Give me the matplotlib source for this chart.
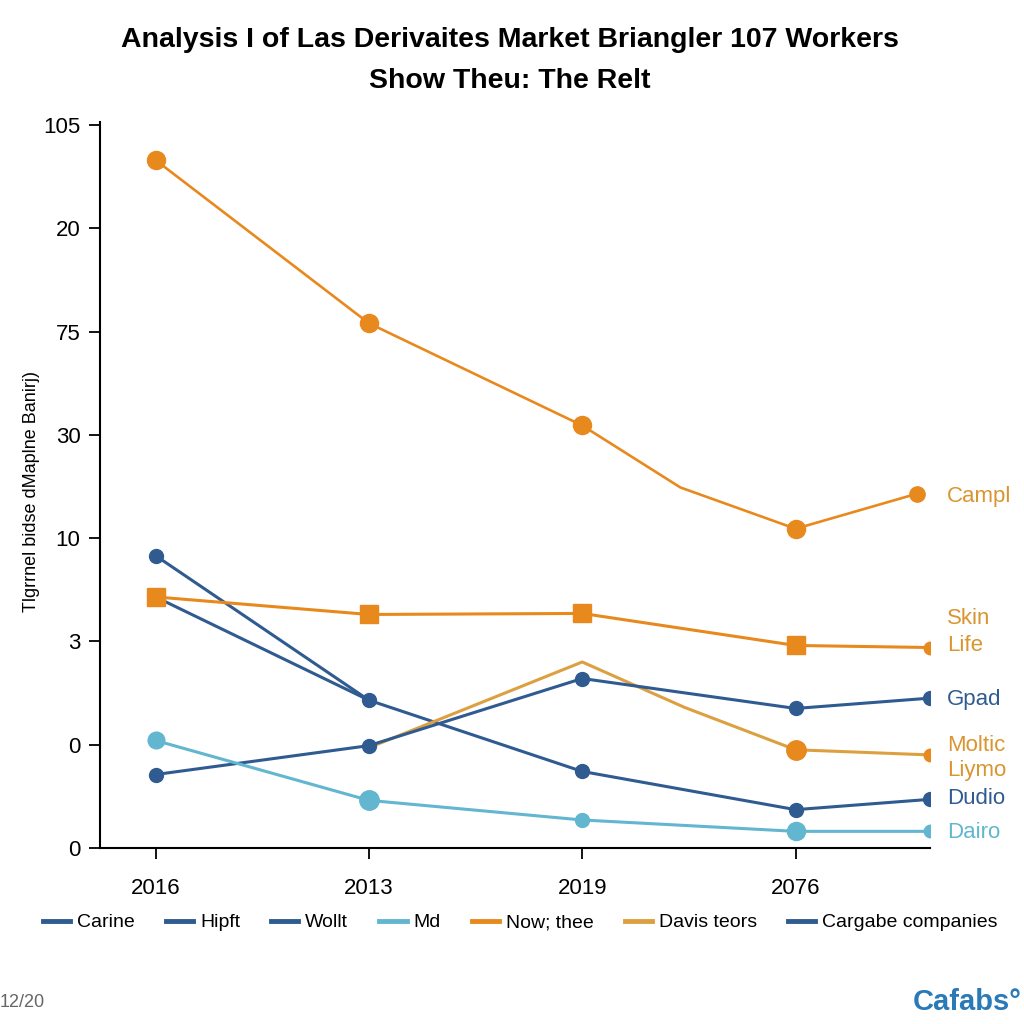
import matplotlib.pyplot as plt
from matplotlib.lines import Line2D

# Datos (eje y en posiciones de tick, 0..7)
years = ['2016', '2013', '2019', '2076']
y_tick_labels = ['0', '0', '3', '10', '30', '75', '20', '105']

campl_x = [0, 1, 2, 2.46, 3, 3.57]
campl_y = [6.66, 5.08, 4.09, 3.49, 3.09, 3.43]

skin_x = [0, 1, 2, 3, 3.63]
skin_y = [2.43, 2.26, 2.27, 1.96, 1.94]

gpad_x = [0, 1, 2, 3, 3.63]
gpad_y = [0.71, 0.99, 1.64, 1.35, 1.45]

dudio_x = [0, 1, 2, 3, 3.63]
dudio_y = [2.83, 1.43, 0.74, 0.37, 0.47]

hipft_x = [0, 1]
hipft_y = [2.43, 1.43]

moltic_x = [1, 2, 2.48, 3, 3.63]
moltic_y = [0.97, 1.80, 1.36, 0.95, 0.90]

dairo_x = [0, 1, 2, 3, 3.63]
dairo_y = [1.04, 0.46, 0.27, 0.16, 0.16]

end_labels = ['Campl', 'Skin', 'Life', 'Gpad', 'Moltic', 'Liymo', 'Dudio', 'Dairo']
end_label_y = [3.40, 2.22, 1.96, 1.44, 0.99, 0.75, 0.48, 0.15]

legend_names = ['Carine', 'Hipft', 'Wollt', 'Md', 'Now; thee', 'Davis teors', 'Cargabe companies']

# Colores
ORANGE = '#E8891E'
GOLD = '#DDA040'
BLUE = '#2F5B91'
CYAN = '#62B6CF'
legend_colors = [BLUE, BLUE, BLUE, CYAN, ORANGE, GOLD, BLUE]
end_colors = ['#D9952F', '#D9952F', '#D9952F', BLUE, '#D9952F', '#D9952F', BLUE, CYAN]

plt.rcParams['font.family'] = ['Liberation Sans', 'DejaVu Sans']

fig = plt.figure(figsize=(10.24, 10.24), dpi=100)
ax = fig.add_axes([0.0977, 0.172, 0.8105, 0.709])

lw = 2.2

# lineas
ax.plot(campl_x, campl_y, color=ORANGE, lw=1.9, zorder=3)
ax.plot([campl_x[i] for i in (0, 1, 2, 4)], [campl_y[i] for i in (0, 1, 2, 4)],
        'o', color=ORANGE, ms=13, zorder=4)
ax.plot(campl_x[-1:], campl_y[-1:], 'o', color=ORANGE, ms=11, zorder=4)

ax.plot(hipft_x, hipft_y, color=BLUE, lw=lw, zorder=2)

ax.plot(dudio_x, dudio_y, color=BLUE, lw=lw, zorder=2)
ax.plot(dudio_x, dudio_y, 'o', color=BLUE, ms=10, zorder=4)

ax.plot(moltic_x, moltic_y, color=GOLD, lw=lw, zorder=2)
ax.plot(moltic_x[3:4], moltic_y[3:4], 'o', color=ORANGE, ms=14, zorder=4)
ax.plot(moltic_x[4:], moltic_y[4:], 'o', color=ORANGE, ms=9, zorder=4)

ax.plot(gpad_x, gpad_y, color=BLUE, lw=lw, zorder=3)
ax.plot(gpad_x, gpad_y, 'o', color=BLUE, ms=10, zorder=4)

ax.plot(skin_x, skin_y, color=ORANGE, lw=lw, zorder=3)
ax.plot(skin_x[:4], skin_y[:4], 's', color=ORANGE, ms=13, zorder=4)
ax.plot(skin_x[4:], skin_y[4:], 'o', color=ORANGE, ms=9, zorder=4)

ax.plot(dairo_x, dairo_y, color=CYAN, lw=lw, zorder=3)
ax.plot(dairo_x[0:1], dairo_y[0:1], 'o', color=CYAN, ms=12, zorder=4)
ax.plot(dairo_x[1:2], dairo_y[1:2], 'o', color=CYAN, ms=14, zorder=4)
ax.plot(dairo_x[2:3], dairo_y[2:3], 'o', color=CYAN, ms=10, zorder=4)
ax.plot(dairo_x[3:4], dairo_y[3:4], 'o', color=CYAN, ms=13, zorder=4)
ax.plot(dairo_x[4:], dairo_y[4:], 'o', color=CYAN, ms=9, zorder=4)

# etiquetas a la derecha
for name, yv, c in zip(end_labels, end_label_y, end_colors):
    ax.text(3.71, yv, name, color=c, fontsize=16, va='center', ha='left', clip_on=False)

# ejes
ax.set_xlim(-0.26, 3.63)
ax.set_ylim(0, 7.03)
ax.set_xticks(range(len(years)))
ax.set_xticklabels(years, fontsize=16)
ax.set_yticks(range(len(y_tick_labels)))
ax.set_yticklabels(y_tick_labels, fontsize=16)
ax.tick_params(axis='both', length=8, width=1.3, color='black', pad=14)
ax.tick_params(axis='y', pad=6)
for s in ('top', 'right'):
    ax.spines[s].set_visible(False)
for s in ('left', 'bottom'):
    ax.spines[s].set_linewidth(1.5)

fig.text(0.031, 0.52, 'Tlgrrnel bidse dMaplne Banirj)', rotation=90,
         fontsize=13, ha='center', va='center')

# titulo
fig.text(0.498, 0.961, 'Analysis I of Las Derivaites Market Briangler 107 Workers',
         fontsize=20.5, fontweight='bold', ha='center', va='center')
fig.text(0.498, 0.921, 'Show Theu: The Relt',
         fontsize=20.5, fontweight='bold', ha='center', va='center')

# leyenda
handles = [Line2D([0], [0], color=c, lw=3.5) for c in legend_colors]
fig.legend(handles, legend_names, loc='center', bbox_to_anchor=(0.508, 0.099),
           ncol=7, frameon=False, fontsize=14, handlelength=1.4,
           handletextpad=0.35, columnspacing=1.6)

fig.text(0.0, 0.021, '12/20', fontsize=13, color='#666666', ha='left', va='center')
fig.text(0.998, 0.021, 'Cafabs°', fontsize=21, fontweight='bold', color='#2A7AB8',
         ha='right', va='center')

fig.savefig('out.png', dpi=100)
